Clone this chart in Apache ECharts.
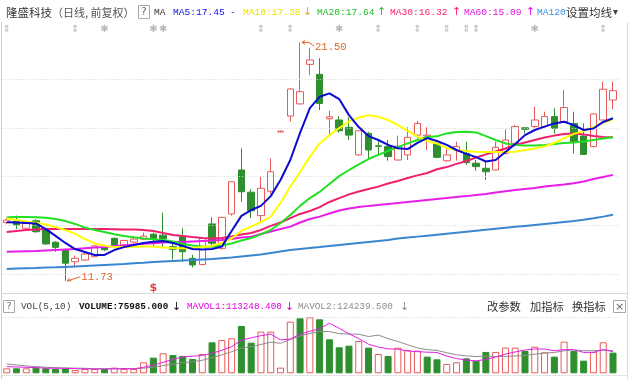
<!DOCTYPE html>
<html><head><meta charset="utf-8">
<script src="https://cdn.jsdelivr.net/npm/echarts@6/dist/echarts.min.js"></script>
<style>html,body{margin:0;padding:0;background:#fff;}#c{width:640px;height:379px;}</style>
</head><body><div id="c"></div>
<script>
const categories = ['1','2','3','4','5','6','7','8','9','10','11','12','13','14','15','16','17','18','19','20','21','22','23','24','25','26','27','28','29','30','31','32','33','34','35','36','37','38','39','40','41','42','43','44','45','46','47','48','49','50','51','52','53','54','55','56','57','58','59','60','61','62','63'];
const opens  = [14.12,14.18,13.88,14.19,13.81,13.31,12.99,12.51,12.58,12.72, 13.10,13.47,13.20,13.32,13.43,13.64,13.60,13.13,13.54,12.65, 12.40,14.06,13.06,14.47,16.27,15.36,14.40,15.40,17.83,18.48, 18.98,20.60,20.19,18.37,18.32,18.02,16.89,17.77,17.26,17.23, 16.68,16.89,17.70,17.66,17.34,16.65,17.09,16.95,16.55,16.34, 16.27,16.95,17.36,18.00,18.05,18.05,18.46,18.25,18.18,17.66, 17.23,18.32,19.14];
const closes = [14.22,14.02,14.08,13.74,13.24,13.10,12.45,12.65,12.83,13.16, 13.00,13.20,13.38,13.44,13.56,13.43,13.45,13.02,12.92,12.38, 13.47,13.27,14.33,15.79,15.38,14.60,15.52,16.20,17.86,19.59, 19.48,20.78,19.00,18.45,17.88,17.70,17.88,17.09,17.24,16.82, 17.25,17.61,18.18,17.70,16.79,16.89,17.23,16.57,16.41,16.20, 17.20,17.50,18.05,17.94,18.32,18.46,17.98,18.83,17.43,16.91, 18.57,19.58,19.52];
const lows   = [14.05,13.85,13.82,13.70,13.20,12.92,11.73,12.28,12.55,12.70, 12.95,13.15,13.15,13.28,13.40,13.15,13.13,12.60,12.51,12.28, 12.35,13.13,13.00,14.40,14.97,14.30,14.10,15.30,17.82,18.25, 18.95,20.16,18.73,17.70,17.80,17.50,16.85,16.75,16.90,16.65, 16.66,16.68,17.50,17.09,16.75,16.60,16.65,16.48,16.24,15.86, 16.25,16.90,17.30,17.77,18.00,18.00,17.77,18.20,16.95,16.90, 17.20,18.30,18.76];
const highs  = [14.30,14.40,14.15,14.25,13.85,13.35,13.05,12.76,12.90,13.20, 13.20,13.50,13.42,13.48,13.70,13.70,14.52,13.33,13.88,12.79, 13.50,14.33,14.35,15.80,17.16,15.48,16.00,16.75,17.88,19.62, 21.50,21.28,20.85,18.70,18.48,18.43,17.90,17.84,17.50,17.50, 17.68,18.02,18.28,18.02,17.40,17.20,17.43,17.43,16.68,16.61, 17.43,17.94,18.11,18.02,18.86,18.66,18.80,19.55,18.66,18.18, 18.60,19.89,19.89];
const volumes = [27100,27100,27100,30800,27100,23500,27100,18100,23500,23500, 23500,30800,23500,23500,59700,85000,108500,99500,94100,77800, 104900,168200,180900,190000,256900,166400,226100,226100,30800,280400, 298500,303900,293100,184500,141100,150100,175500,139300,104900,94100, 139300,126600,123000,90500,75985,50700,59700,81400,68700,115800, 115800,139300,139300,121200,144700,114000,90500,171900,121200,68700, 115800,168200,112200];
const ma5   = [14.13,14.12,14.10,14.08,13.85,13.57,13.28,13.03,12.91,12.79, 12.79,12.99,13.11,13.20,13.28,13.33,13.36,13.28,13.16,13.03, 13.01,13.03,13.13,13.77,14.39,14.63,14.80,15.20,15.86,16.68, 17.79,18.81,19.27,19.41,19.18,18.52,18.03,17.66,17.50,17.30, 17.16,17.13,17.38,17.58,17.46,17.30,17.09,16.93,16.80,16.62, 16.68,17.01,17.34,17.70,17.91,18.05,18.18,18.25,18.11,17.91, 17.97,18.24,18.39];
const ma10  = [14.28,14.22,14.16,14.11,14.04,13.93,13.81,13.65,13.44,13.26, 13.18,13.11,13.11,13.13,13.14,13.14,13.09,13.07,13.06,13.07, 13.11,13.16,13.28,13.46,13.77,13.95,14.14,14.36,14.92,15.59, 16.19,16.82,17.36,17.70,17.99,18.25,18.42,18.52,18.45,18.32, 18.11,17.87,17.64,17.46,17.36,17.17,17.09,17.05,17.02,17.01, 17.01,17.01,17.02,17.09,17.15,17.25,17.38,17.58,17.75,17.87, 18.03,18.20,18.34];
const ma20  = [14.33,14.34,14.34,14.33,14.31,14.26,14.18,14.06,13.91,13.81, 13.73,13.64,13.57,13.51,13.46,13.43,13.40,13.34,13.24,13.18, 13.14,13.13,13.18,13.26,13.38,13.48,13.63,13.81,14.10,14.43, 14.80,15.12,15.37,15.70,16.02,16.27,16.50,16.72,16.89,17.05, 17.21,17.36,17.50,17.62,17.65,17.77,17.83,17.84,17.81,17.66, 17.50,17.36,17.30,17.27,17.27,17.30,17.34,17.38,17.40,17.44, 17.50,17.56,17.61];
const ma30  = [13.73,13.77,13.81,13.83,13.85,13.85,13.85,13.85,13.85,13.85, 13.85,13.84,13.83,13.83,13.81,13.77,13.69,13.61,13.57,13.52, 13.48,13.47,13.48,13.55,13.63,13.69,13.81,13.98,14.12,14.30, 14.47,14.59,14.75,14.96,15.12,15.27,15.39,15.49,15.59,15.72, 15.82,15.94,16.05,16.15,16.30,16.39,16.52,16.64,16.78,16.91, 17.03,17.15,17.30,17.40,17.50,17.60,17.68,17.75,17.77,17.73, 17.66,17.62,17.61];
const ma60  = [12.92,12.93,12.94,12.95,12.97,12.99,13.01,13.03,13.06,13.09, 13.11,13.16,13.18,13.22,13.25,13.27,13.30,13.32,13.32,13.34, 13.36,13.38,13.40,13.44,13.50,13.54,13.65,13.75,13.85,13.95, 14.12,14.26,14.36,14.49,14.61,14.69,14.75,14.80,14.84,14.88, 14.92,14.96,15.00,15.04,15.08,15.12,15.16,15.20,15.25,15.29, 15.35,15.40,15.45,15.49,15.53,15.59,15.64,15.68,15.73,15.80, 15.90,15.98,16.07];
const ma120 = [12.21,12.23,12.24,12.25,12.27,12.28,12.30,12.32,12.34,12.36, 12.38,12.40,12.42,12.45,12.47,12.50,12.52,12.54,12.56,12.58, 12.60,12.62,12.65,12.68,12.73,12.77,12.81,12.87,12.93,12.99, 13.03,13.07,13.11,13.16,13.20,13.24,13.28,13.32,13.36,13.40, 13.46,13.50,13.54,13.58,13.62,13.66,13.70,13.74,13.78,13.82, 13.86,13.90,13.94,13.98,14.02,14.06,14.10,14.14,14.18,14.23, 14.29,14.36,14.44];
const mavol5  = [36180,34370,32560,30750,27860,27140,27140,25330,23880,23160, 23160,23880,24960,24960,32200,44500,60060,75250,89360,92980, 96960,108900,125180,144360,180180,192480,204060,213100,181260,185960, 212380,227930,241320,272070,244220,214550,188860,158110,142190,132780, 130610,120840,117590,114690,113248,93340,79960,71640,67290,75250, 88280,104200,115780,126270,132060,131700,121930,128440,128440,113240, 113610,129160,117220];
const mavol10 = [50650,45230,39800,36180,32560,30750,28940,28040,27140,25510, 25150,25510,25150,24420,27680,33830,41970,50110,57160,62590, 70730,84480,100220,116860,136580,144720,156480,169140,162810,183070, 202430,215990,227210,226670,215090,213460,212010,199710,207130,188500, 172580,154850,137850,128440,124240,111980,100400,94610,90990,93160, 90810,92080,93710,96780,103660,109990,113060,122110,127350,122650, 122650,125540,122830];
const priceTicks = [12,14,16,18,20];
const markerIcons = [[0,'⇕'],[7,'⇕'],[10,'✱'],[15,'✱'],[16,'✱'],[26,'⇕'],[29,'⇕'],[34,'✱'],[38,'⇕'],[42,'⇕'],[45,'⇕'],[47,'⇕'],[48,'⇕'],[54,'✱'],[61,'⇕']];
const dividendMarks = [[15,'$']];
const highMark = {index:30, value:21.50, text:'21.50'};
const lowMark = {index:6, value:11.73, text:'11.73'};

const UP = '#e85a5a', DOWN = '#2f8f2f';
const chart = echarts.init(document.getElementById('c'), null, {renderer:'canvas'});
const candleData = opens.map((o,i)=>[o, closes[i], lows[i], highs[i]]);
const volData = volumes.map((v,i)=>{
  const up = i===0 ? closes[0]>=opens[0] : closes[i]>=closes[i-1];
  return {value:v, itemStyle: up ? {color:'#ffffff', borderColor:UP, borderWidth:1} : {color:DOWN, borderColor:DOWN, borderWidth:1}};
});
const GL = 1.8, GW = 616.1;
const priceMin = 20 - (290-79)/24.4, priceMax = 20 + (79-36)/24.4;
function maLine(name, data, color){
  return {name, type:'line', data, xAxisIndex:0, yAxisIndex:0, showSymbol:false, symbol:'none', smooth:false,
    lineStyle:{color, width:2}, z:5, silent:true};
}
const option = {
  animation:false,
  backgroundColor:'#ffffff',
  grid:[
    {left:GL, width:GW, top:36, height:254},
    {left:GL, width:GW, top:317.3, height:56},
    {left:GL, width:GW, top:24, height:10}
  ],
  xAxis:[
    {type:'category', data:categories, gridIndex:0, show:false, boundaryGap:true},
    {type:'category', data:categories, gridIndex:1, show:false, boundaryGap:true},
    {type:'category', data:categories, gridIndex:2, show:false, boundaryGap:true}
  ],
  yAxis:[
    {type:'value', gridIndex:0, min:priceMin, max:priceMax, show:false, splitLine:{show:false}},
    {type:'value', gridIndex:1, min:0, max:304000, show:false, splitLine:{show:false}},
    {type:'value', gridIndex:2, min:0, max:1, show:false, splitLine:{show:false}}
  ],
  series:[
    {type:'line', data:[], xAxisIndex:0, yAxisIndex:0, silent:true,
      markLine:{symbol:'none', silent:true, animation:false, label:{show:false},
        lineStyle:{color:'#d4d4d4', type:[1,2], width:1}, data: priceTicks.map(v=>({yAxis:v}))}},
    {type:'candlestick', data:candleData, xAxisIndex:0, yAxisIndex:0, barWidth:7, z:3,
      itemStyle:{color:'#ffffff', color0:DOWN, borderColor:UP, borderColor0:DOWN, borderWidth:1}},
    maLine('MA120', ma120, '#3a86d0'),
    maLine('MA60', ma60, '#e81ee8'),
    maLine('MA30', ma30, '#f0206e'),
    maLine('MA20', ma20, '#22e022'),
    maLine('MA10', ma10, '#ffff00'),
    maLine('MA5', ma5, '#0a0ad0'),
    {type:'scatter', data: dividendMarks.map(d=>[d[0], 11.43, d[1]]), xAxisIndex:0, yAxisIndex:0, symbolSize:1, clip:false,
      itemStyle:{color:'rgba(0,0,0,0)'},
      label:{show:true, position:'inside', formatter:p=>p.data[2], color:'#e01010', fontSize:11, fontWeight:'bold', fontFamily:'DejaVu Sans'}},
    {type:'bar', data:volData, xAxisIndex:1, yAxisIndex:1, barWidth:7,
      markLine:{symbol:'none', silent:true, animation:false, label:{show:false},
        lineStyle:{color:'#d4d4d4', type:[1,2], width:1}, data:[{yAxis:304000}]}},
    {type:'line', data:mavol5, xAxisIndex:1, yAxisIndex:1, showSymbol:false, symbol:'none', lineStyle:{color:'#e81ee8', width:1}, z:5},
    {type:'line', data:mavol10, xAxisIndex:1, yAxisIndex:1, showSymbol:false, symbol:'none', lineStyle:{color:'#8c8c8c', width:1}, z:4},
    {type:'scatter', data: markerIcons.map(m=>[m[0], 0.5, m[1]]), xAxisIndex:2, yAxisIndex:2, symbolSize:1, clip:false,
      itemStyle:{color:'rgba(0,0,0,0)'},
      label:{show:true, position:'inside', formatter:p=>p.data[2], color:'#a8a8a8', fontSize:10, fontFamily:'DejaVu Sans'}}
  ]
};
chart.setOption(option);

const MONO = '"Liberation Mono", "DejaVu Sans Mono", monospace';
const CJK = '"Noto Sans CJK SC", sans-serif';
function txt(x, y, text, fill, font, align){
  return {type:'text', x, y, silent:true, z:100,
    style:{text, fill, font, textAlign:align||'left', textVerticalAlign:'middle', align:align||'left', verticalAlign:'middle'}};
}
function hline(x1,x2,y,color){return {type:'line', silent:true, z:90, shape:{x1,y1:y,x2,y2:y}, style:{stroke:color, lineWidth:1}};}
function vline(x,y1,y2,color){return {type:'line', silent:true, z:90, shape:{x1:x,y1,x2:x,y2}, style:{stroke:color, lineWidth:1}};}
function box(x,y,w,h){return {type:'rect', silent:true, z:95, shape:{x,y,width:w,height:h}, style:{fill:'#fff', stroke:'#a8a8a8', lineWidth:1}};}

const g = [];
// frame
g.push(vline(1.5, 22, 379, '#d0d0d0'));
g.push(vline(627.5, 22, 379, '#dcdcdc'));
g.push(hline(1.5, 627.5, 293.5, '#d6d6d6'));
g.push(hline(1.5, 627.5, 375.5, '#e4e4e4'));
// header row
const hy = 12.5;
g.push(txt(6, hy, '隆盛科技', '#333333', '11.5px ' + CJK));
g.push(txt(52, hy, '（日线, 前复权）', '#555555', '11px ' + CJK));
g.push(box(138.5, 5.5, 11, 13));
g.push(txt(144, hy, '?', '#666666', '10px "DejaVu Sans"', 'center'));
g.push(txt(154, hy, 'MA', '#333333', '9.6px ' + MONO));
g.push(txt(173, hy, 'MA5:17.45', '#1010e0', '9.6px ' + MONO));
g.push(txt(230, hy, '-', '#1010e0', '9.6px ' + MONO));
g.push(txt(243, hy, 'MA10:17.38', '#e6e600', '9.6px ' + MONO));
g.push(txt(303, hy, '↓', '#e0b000', '11px "DejaVu Sans"'));
g.push(txt(317, hy, 'MA20:17.64', '#20c020', '9.6px ' + MONO));
g.push(txt(377, hy, '↑', '#20c020', '11px "DejaVu Sans"'));
g.push(txt(390, hy, 'MA30:16.32', '#ff1a6a', '9.6px ' + MONO));
g.push(txt(452, hy, '↑', '#ff1a6a', '11px "DejaVu Sans"'));
g.push(txt(464, hy, 'MA60:15.09', '#e010e0', '9.6px ' + MONO));
g.push(txt(526, hy, '↑', '#e010e0', '11px "DejaVu Sans"'));
g.push(txt(537, hy, 'MA120', '#3a8ee8', '9.6px ' + MONO));
g.push(txt(566, hy, '设置均线', '#333333', '11.5px ' + CJK));
g.push(txt(613, hy, '▾', '#444444', '10px "DejaVu Sans"'));
// volume header
const vy = 307;
g.push(box(3.5, 300.5, 11, 12));
g.push(txt(9, vy, '?', '#666666', '9.5px "DejaVu Sans"', 'center'));
g.push(txt(21, vy, 'VOL(5,10)', '#444444', '9.3px ' + MONO));
g.push(txt(79, vy, 'VOLUME:75985.000', '#111111', 'bold 9.3px ' + MONO));
g.push(txt(172, vy, '↓', '#111111', '11px "DejaVu Sans"'));
g.push(txt(187, vy, 'MAVOL1:113248.400', '#e000e0', '9.3px ' + MONO));
g.push(txt(285, vy, '↓', '#e000e0', '11px "DejaVu Sans"'));
g.push(txt(298, vy, 'MAVOL2:124239.500', '#8c8c8c', '9.3px ' + MONO));
g.push(txt(400, vy, '↓', '#8c8c8c', '11px "DejaVu Sans"'));
g.push(txt(487, vy, '改参数', '#333333', '11.3px ' + CJK));
g.push(txt(530, vy, '加指标', '#333333', '11.3px ' + CJK));
g.push(txt(572, vy, '换指标', '#333333', '11.3px ' + CJK));
g.push(box(613.5, 300.5, 12, 12));
g.push(txt(619.5, vy, '×', '#666666', '11px "DejaVu Sans"', 'center'));
// extreme annotations
const ORANGE = '#e0642c';
const hp = chart.convertToPixel({xAxisIndex:0, yAxisIndex:0}, [highMark.index, highMark.value]);
g.push({type:'polyline', silent:true, z:96, shape:{points:[[hp[0]+2,hp[1]],[hp[0]+9,hp[1]],[hp[0]+14,hp[1]+4]]}, style:{stroke:ORANGE, lineWidth:1, fill:null}});
g.push({type:'polyline', silent:true, z:96, shape:{points:[[hp[0]+5,hp[1]-2],[hp[0]+2,hp[1]],[hp[0]+5,hp[1]+2]]}, style:{stroke:ORANGE, lineWidth:1, fill:null}});
g.push(txt(hp[0]+15, hp[1]+5, highMark.text, ORANGE, '10.5px ' + MONO));
const lp = chart.convertToPixel({xAxisIndex:0, yAxisIndex:0}, [lowMark.index, lowMark.value]);
g.push({type:'polyline', silent:true, z:96, shape:{points:[[lp[0]+2,lp[1]],[lp[0]+15,lp[1]-4]]}, style:{stroke:ORANGE, lineWidth:1, fill:null}});
g.push({type:'polyline', silent:true, z:96, shape:{points:[[lp[0]+4,lp[1]-3],[lp[0]+2,lp[1]],[lp[0]+6,lp[1]]]}, style:{stroke:ORANGE, lineWidth:1, fill:null}});
g.push(txt(lp[0]+16, lp[1]-3.5, lowMark.text, ORANGE, '10.5px ' + MONO));
chart.setOption({graphic: g});
</script>
</body></html>
